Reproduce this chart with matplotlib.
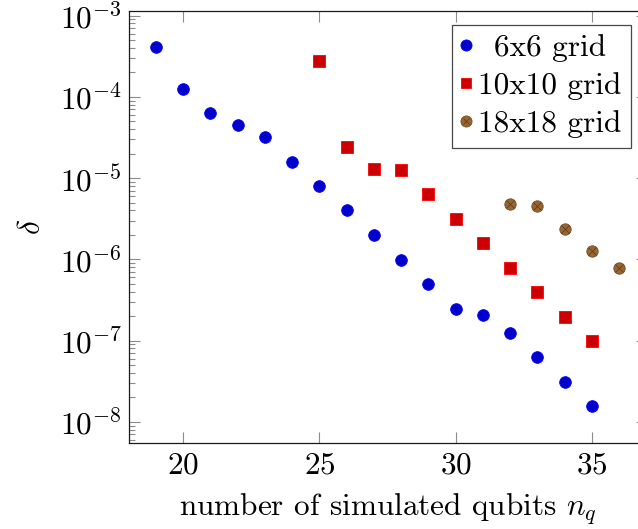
import matplotlib
matplotlib.use("Agg")
import matplotlib.pyplot as plt
from matplotlib.lines import Line2D
from matplotlib.legend_handler import HandlerTuple
from matplotlib.ticker import LogLocator, NullFormatter, FixedLocator

plt.rcParams['font.family'] = ['cmr10', 'DejaVu Serif']
plt.rcParams['mathtext.fontset'] = 'cm'
plt.rcParams['axes.formatter.use_mathtext'] = True
plt.rcParams['axes.unicode_minus'] = True

# data
nq_6 = [19, 20, 21, 22, 23, 24, 25, 26, 27, 28, 29, 30, 31, 32, 33, 34, 35]
delta_6 = [4.1e-4, 1.24e-4, 6.3e-5, 4.45e-5, 3.2e-5, 1.58e-5, 8.0e-6, 4.0e-6,
           1.98e-6, 9.9e-7, 4.95e-7, 2.46e-7, 2.05e-7, 1.23e-7, 6.2e-8, 3.1e-8, 1.55e-8]
nq_10 = [25, 26, 27, 28, 29, 30, 31, 32, 33, 34, 35]
delta_10 = [2.74e-4, 2.44e-5, 1.29e-5, 1.26e-5, 6.35e-6, 3.16e-6, 1.58e-6,
            7.9e-7, 3.97e-7, 1.96e-7, 9.8e-8]
nq_18 = [32, 33, 34, 35, 36]
delta_18 = [4.77e-6, 4.47e-6, 2.37e-6, 1.26e-6, 7.87e-7]
labels = ['6x6 grid', '10x10 grid', '18x18 grid']
xticks = [20, 25, 30, 35]

FS = 22.5
W, H = 638, 529
fig = plt.figure(figsize=(W / 100, H / 100), dpi=100)
ax = fig.add_axes([128.7 / W, (H - 443) / H, (646.5 - 128.7) / W, (443 - 11.3) / H])

blue_f, blue_e = (0, 0, 0.8), (0, 0, 1)
red_f, red_e = (0.8, 0, 0), (1, 0, 0)
brown_f, brown_e = (0.6, 0.4, 0.2), (0.45, 0.3, 0.15)
cross_c = (0.35, 0.22, 0.1)

ax.plot(nq_6, delta_6, ls='none', marker='o', ms=8.4, mfc=blue_f, mec=blue_e, mew=0.6)
ax.plot(nq_10, delta_10, ls='none', marker='s', ms=8.0, mfc=red_f, mec=red_e, mew=0.6)
ax.plot(nq_18, delta_18, ls='none', marker='o', ms=8.2, mfc=brown_f, mec=brown_e, mew=0.6)
ax.plot(nq_18, delta_18, ls='none', marker='x', ms=5.2, mec=cross_c, mew=0.5)

ax.set_yscale('log')
ax.set_xlim(18, 37)
ax.set_ylim(10 ** -8.26, 10 ** -2.948)
ax.xaxis.set_major_locator(FixedLocator(xticks))
ax.yaxis.set_major_locator(LogLocator(base=10, numticks=20))
ax.yaxis.set_minor_locator(LogLocator(base=10, subs=range(2, 10), numticks=20))
ax.yaxis.set_minor_formatter(NullFormatter())

tc = '0.55'
ax.tick_params(which='both', direction='in', top=True, right=True, color=tc, width=0.8, labelsize=FS)
ax.tick_params(which='major', length=7.7)
ax.tick_params(which='minor', length=4.0)
ax.tick_params(axis='x', pad=6)
ax.tick_params(axis='y', pad=5)
for s in ax.spines.values():
    s.set_linewidth(0.9)
    s.set_color('0.1')

ax.set_xlabel('number of simulated qubits $n_q$', fontsize=FS, labelpad=9)
ax.set_ylabel(r'$\delta$', fontsize=FS, labelpad=10)

h1 = Line2D([], [], ls='none', marker='o', ms=8.0, mfc=blue_f, mec=blue_e, mew=0.6)
h2 = Line2D([], [], ls='none', marker='s', ms=7.6, mfc=red_f, mec=red_e, mew=0.6)
h3a = Line2D([], [], ls='none', marker='o', ms=8.0, mfc=brown_f, mec=brown_e, mew=0.6)
h3b = Line2D([], [], ls='none', marker='x', ms=5.0, mec=cross_c, mew=0.5)
leg = ax.legend([h1, h2, (h3a, h3b)], labels, loc='upper right',
                bbox_to_anchor=(631 / W, 1 - 25 / H), bbox_transform=fig.transFigure,
                fontsize=FS, frameon=True, fancybox=False, edgecolor='0.1',
                handlelength=0.25, handletextpad=0.28, borderpad=0.3, labelspacing=0.32,
                borderaxespad=0, handler_map={tuple: HandlerTuple(ndivide=1)})
leg.get_frame().set_linewidth(0.9)

fig.canvas.draw()
r = fig.canvas.get_renderer()
ws = [t.get_window_extent(r).width for t in leg.get_texts()]
mw = max(ws)
for t, w in zip(leg.get_texts(), ws):
    x, y = t.get_position()
    t.set_position((x + (mw - w) / 2, y))

fig.savefig('out.png', dpi=100)
